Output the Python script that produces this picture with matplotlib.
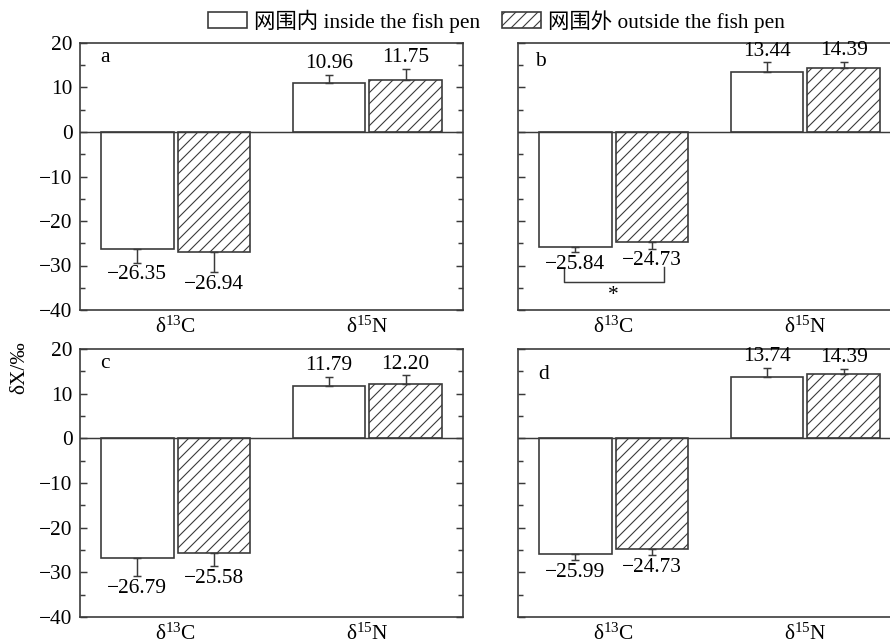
import numpy as np
import matplotlib
matplotlib.use("Agg")
import matplotlib.pyplot as plt
from matplotlib.patches import Patch
from matplotlib.ticker import MultipleLocator

# data
categories = ["δ$^{13}$C", "δ$^{15}$N"]
panels = ["a", "b", "c", "d"]
inside_vals = {"a": [-26.35, 10.96], "b": [-25.84, 13.44], "c": [-26.79, 11.79], "d": [-25.99, 13.74]}
outside_vals = {"a": [-26.94, 11.75], "b": [-24.73, 14.39], "c": [-25.58, 12.20], "d": [-24.73, 14.39]}
inside_err = {"a": [3.0, 1.9], "b": [1.1, 2.2], "c": [4.0, 2.0], "d": [1.3, 2.0]}
outside_err = {"a": [4.6, 2.4], "b": [1.5, 1.3], "c": [3.0, 1.9], "d": [1.5, 1.1]}
legend_labels = ["网围内 inside the fish pen", "网围外 outside the fish pen"]
ylabel = "δX/‰"

DPI = 132
EDGE = "#3a3a3a"
FS = 11.7

plt.rcParams["font.family"] = ["Liberation Serif", "Noto Sans CJK SC"]
plt.rcParams["mathtext.fontset"] = "custom"
plt.rcParams["mathtext.rm"] = "Liberation Serif"
plt.rcParams["mathtext.default"] = "regular"
plt.rcParams["hatch.linewidth"] = 0.6
plt.rcParams["hatch.color"] = EDGE
plt.rcParams["axes.unicode_minus"] = True

W, H = 890, 644
fig = plt.figure(figsize=(W / DPI, H / DPI), dpi=DPI)

# panel boxes in pixels: left, top, right, bottom
boxes = {"a": (80, 43, 463, 310), "b": (518, 43, 901, 310),
         "c": (80, 349, 463, 617), "d": (518, 349, 901, 617)}
letter_pos = {"a": (0.052, 0.945), "b": (0.045, 0.93), "c": (0.052, 0.945), "d": (0.052, 0.905)}


def fmt(v):
    s = f"{abs(v):.2f}"
    return ("\u2212" + s) if v < 0 else s


x = np.arange(len(categories))
bw = 0.38
off = 0.2

for p in panels:
    l, t, r, b = boxes[p]
    ax = fig.add_axes([l / W, 1 - b / H, (r - l) / W, (b - t) / H])
    for vals, errs, sign, hatch in [(inside_vals[p], inside_err[p], -1, None),
                                    (outside_vals[p], outside_err[p], 1, "////")]:
        xs = x + sign * off
        vals = np.array(vals)
        errs = np.array(errs)
        ax.bar(xs, vals, bw, facecolor="white", edgecolor=EDGE, linewidth=0.9,
               hatch=hatch, zorder=2)
        lower = np.where(vals < 0, errs, 0)
        upper = np.where(vals > 0, errs, 0)
        ax.errorbar(xs, vals, yerr=[lower, upper], fmt="none", ecolor=EDGE,
                    elinewidth=0.8, capsize=2.3, capthick=0.8, zorder=3)
        for xi, v, e in zip(xs, vals, errs):
            if v > 0:
                ax.annotate(fmt(v), (xi, v + e), xytext=(0, 1), textcoords="offset points",
                            ha="center", va="bottom", fontsize=FS)
            else:
                ax.annotate(fmt(v), (xi, v - e), xytext=(0, -1.5), textcoords="offset points",
                            ha="center", va="top", fontsize=FS)
    ax.axhline(0, color=EDGE, lw=0.8, zorder=4)
    ax.set_xlim(-0.5, 1.5)
    ax.set_ylim(-40, 20)
    ax.set_xticks(x)
    ax.set_xticklabels(categories, fontsize=FS)
    ax.tick_params(axis="x", length=0, pad=3.5)
    ax.yaxis.set_major_locator(MultipleLocator(10))
    ax.yaxis.set_minor_locator(MultipleLocator(5))
    ax.tick_params(axis="y", which="both", direction="in", left=True, right=True,
                   labelsize=FS, color=EDGE, pad=4)
    ax.tick_params(axis="y", which="major", length=4, width=0.8)
    ax.tick_params(axis="y", which="minor", length=2.5, width=0.8)
    if p in ("b", "d"):
        ax.tick_params(axis="y", labelleft=False)
    for s in ax.spines.values():
        s.set_color(EDGE)
        s.set_linewidth(0.9)
    ax.text(*letter_pos[p], p, transform=ax.transAxes, fontsize=FS, ha="left", va="center")

    if p == "b":
        xl, xr = x[0] - off - 0.06, x[0] + off + 0.06
        ax.plot([xl, xl, xr, xr], [-30.8, -33.8, -33.8, -30.4], color=EDGE, lw=0.8)
        ax.text(x[0], -34.6, "*", ha="center", va="top", fontsize=FS)

fig.text(20 / W, 1 - 368 / H, ylabel, rotation=90, ha="center", va="center", fontsize=FS)

handles = [Patch(facecolor="white", edgecolor=EDGE, linewidth=0.9),
           Patch(facecolor="white", edgecolor=EDGE, linewidth=0.9, hatch="////")]
fig.legend(handles, legend_labels, loc="center", bbox_to_anchor=(0.558, 1 - 21 / H),
           ncol=2, frameon=False, fontsize=FS, handlelength=1.8, handleheight=0.8,
           handletextpad=0.35, columnspacing=1.0)

fig.savefig("out.png", dpi=DPI)
